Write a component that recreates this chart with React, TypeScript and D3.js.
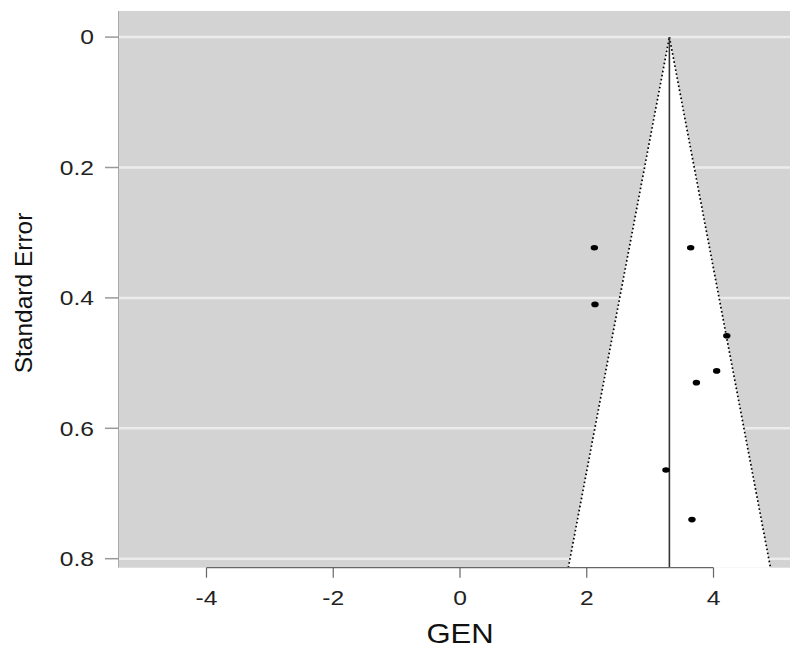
import React from 'react'
import * as d3 from 'd3'

// study effects (GEN) and their standard errors
const effects = [2.12, 2.13, 3.64, 4.21, 4.05, 3.73, 3.25, 3.66]
const stdErrors = [0.323, 0.41, 0.323, 0.458, 0.512, 0.53, 0.664, 0.74]
const estimate = 3.304
const xTicks = [-4, -2, 0, 2, 4]
const yTicks = [0, 0.2, 0.4, 0.6, 0.8]

const W = 790
const H = 648
const left = 119
const top = 11
const right = 790
const bottom = 567.7

const App = () => {
  const x = d3.scaleLinear().domain([-4, 4]).range([206.5, 713.5])
  const y = d3.scaleLinear().domain([0, 0.8]).range([37.1, 558.7])

  const seMax = y.invert(bottom)
  const lo = estimate - 1.96 * seMax
  const hi = estimate + 1.96 * seMax

  const funnel = d3.line<[number, number]>()
    .x(d => x(d[0]))
    .y(d => y(d[1]))

  const font = '"Liberation Sans", Arial, sans-serif'

  return (
    <svg width={W} height={H} style={{ position: 'absolute', left: 0, top: 0 }}>
      <rect x={left} y={top} width={right - left} height={bottom - top} fill="#d3d3d3" />
      {yTicks.map(t => (
        <line key={t} x1={left} x2={right} y1={y(t)} y2={y(t)} stroke="#ececec" strokeWidth={2.5} />
      ))}
      <path
        d={funnel([[lo, seMax], [estimate, 0], [hi, seMax]])! + 'Z'}
        fill="white"
      />
      <path d={funnel([[lo, seMax], [estimate, 0]])!} fill="none" stroke="#000" strokeWidth={1.7} strokeDasharray="1.6 2.5" />
      <path d={funnel([[estimate, 0], [hi, seMax]])!} fill="none" stroke="#000" strokeWidth={1.7} strokeDasharray="1.6 2.5" />
      <line x1={x(estimate)} x2={x(estimate)} y1={y(0)} y2={bottom} stroke="#333" strokeWidth={1.6} />
      {effects.map((e, i) => (
        <ellipse key={i} cx={x(e)} cy={y(stdErrors[i])} rx={3.7} ry={2.8} fill="black" />
      ))}

      {/* x axis */}
      <line x1={x(-4)} x2={x(4)} y1={bottom} y2={bottom} stroke="#666" strokeWidth={1.2} />
      {xTicks.map(t => (
        <g key={t}>
          <line x1={x(t)} x2={x(t)} y1={bottom} y2={bottom + 10} stroke="#666" strokeWidth={1.2} />
          <text
            transform={`translate(${x(t)},${605}) scale(1.2,1)`}
            textAnchor="middle"
            fontSize={20.5}
            fontFamily={font}
            fill="#222"
          >
            {t}
          </text>
        </g>
      ))}
      <text
        transform={`translate(${x(0)},${643}) scale(1.15,1)`}
        textAnchor="middle"
        fontSize={27}
        fontFamily={font}
        fill="#111"
      >
        GEN
      </text>

      {/* y axis */}
      <line x1={left - 0.5} x2={left - 0.5} y1={top} y2={bottom} stroke="#aaa" strokeWidth={1} />
      {yTicks.map(t => (
        <g key={t}>
          <line x1={105} x2={left} y1={y(t)} y2={y(t)} stroke="#999" strokeWidth={1.5} />
          <text
            transform={`translate(${94},${y(t)}) scale(1.2,1)`}
            textAnchor="end"
            dy="0.36em"
            fontSize={20.5}
            fontFamily={font}
            fill="#222"
          >
            {t === 0 ? '0' : t.toFixed(1)}
          </text>
        </g>
      ))}
      <text
        transform={`translate(${32},${293}) rotate(-90)`}
        textAnchor="middle"
        fontSize={24.5}
        fontFamily={font}
        fill="#111"
      >
        Standard Error
      </text>
    </svg>
  )
}

export default App
